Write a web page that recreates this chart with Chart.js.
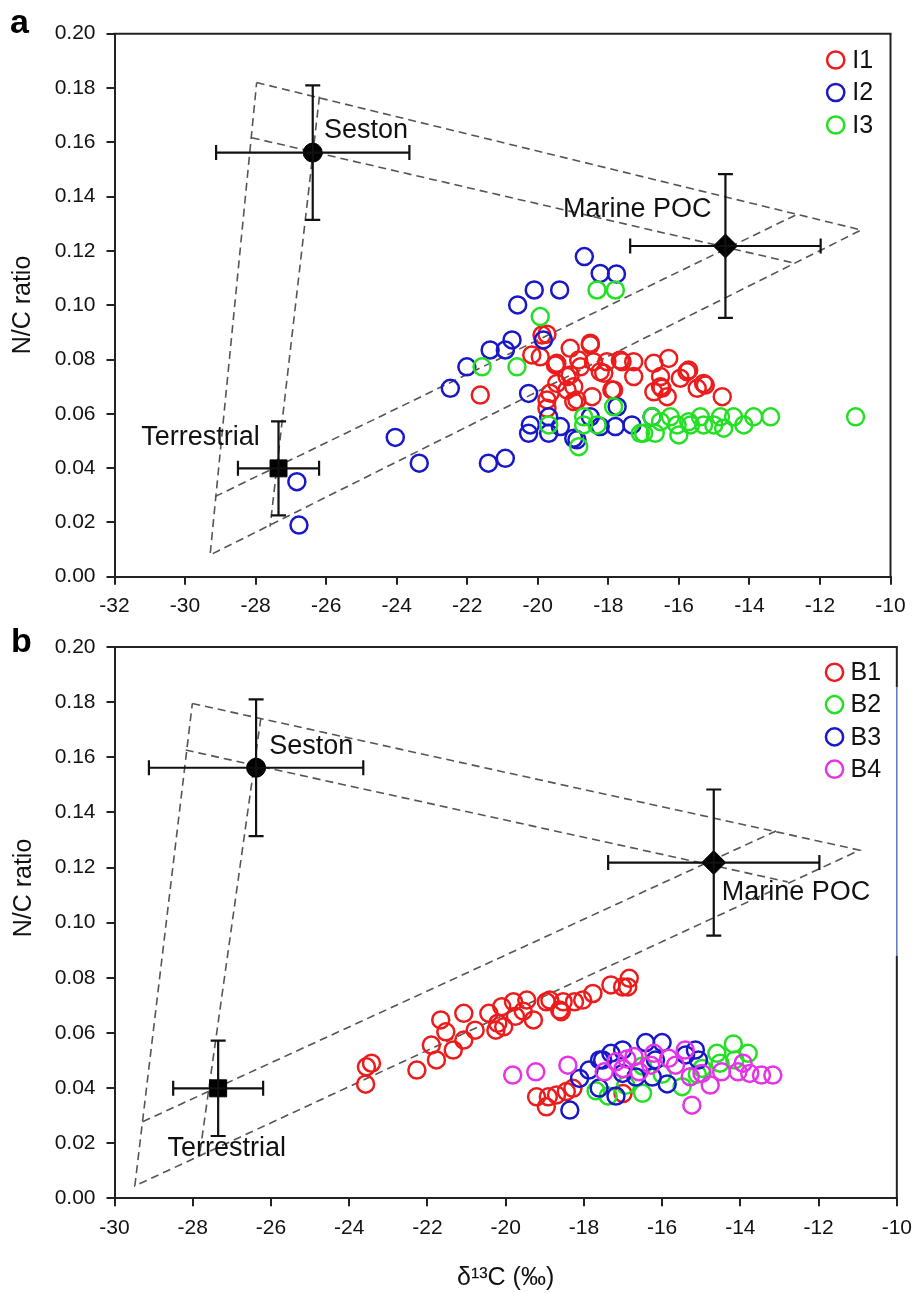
<!DOCTYPE html>
<html><head><meta charset="utf-8">
<script src="https://cdn.jsdelivr.net/npm/chart.js@4.4.1/dist/chart.umd.min.js"></script>
<style>
html,body{margin:0;padding:0;background:#fff;}
body{width:921px;height:1293px;position:relative;overflow:hidden;}
canvas{position:absolute;left:0;}
#ca{top:0;} #cb{top:620px;}
</style></head><body>
<canvas id="ca" width="921" height="620"></canvas>
<canvas id="cb" width="921" height="673"></canvas>
<script>
// ---------------- DATA ----------------
// Panel a series (δ13C, N/C)
const I1_x = [-21.63,-20.17,-19.88,-19.74,-19.50,-19.08,-18.51,-19.46,-19.08,-18.79,-18.42,-18.13,-19.17,-18.89,-18.46,-17.85,-17.61,-17.28,-16.71,-16.29,-16.52,-16.71,-16.33,-15.72,-15.96,-15.25,-14.77,-19.74,-18.84,-19.65,-18.04,-17.28,-16.52,-16.48,-15.77,-15.30,-15.48,-19.93,-19.17,-18.98,-17.66,-17.90,-18.98,-19.74,-18.51,-18.23,-19.46];
const I1_y = [0.0669,0.0817,0.0890,0.0893,0.0780,0.0841,0.0854,0.0712,0.0743,0.0773,0.0792,0.0749,0.0688,0.0651,0.0663,0.0688,0.0792,0.0737,0.0786,0.0804,0.0700,0.0681,0.0663,0.0761,0.0731,0.0706,0.0663,0.0620,0.0798,0.0676,0.0792,0.0792,0.0737,0.0694,0.0755,0.0712,0.0694,0.0810,0.0737,0.0700,0.0798,0.0688,0.0645,0.0651,0.0860,0.0755,0.0786];
const I2_x = [-18.68,-18.23,-17.77,-20.10,-19.38,-20.57,-20.73,-19.84,-21.35,-20.92,-22.01,-22.48,-20.26,-20.21,-20.26,-19.69,-19.69,-24.04,-23.36,-21.40,-20.92,-18.89,-18.23,-17.80,-17.33,-17.75,-16.76,-18.51,-19.36,-18.98,-26.83,-26.77];
const I2_y = [0.1179,0.1117,0.1115,0.1056,0.1056,0.1001,0.0872,0.0872,0.0835,0.0835,0.0773,0.0694,0.0675,0.0559,0.0528,0.0589,0.0528,0.0513,0.0418,0.0418,0.0436,0.0504,0.0553,0.0553,0.0559,0.0626,0.0589,0.0589,0.0553,0.0510,0.0350,0.0190];
const I3_x = [-19.93,-21.58,-20.59,-18.32,-17.80,-19.69,-18.70,-18.70,-18.32,-18.84,-17.85,-16.76,-16.67,-17.00,-16.05,-16.00,-15.67,-15.39,-15.01,-14.82,-14.45,-14.16,-13.88,-13.40,-10.99,-16.52,-16.24,-15.72,-15.30,-14.73,-17.09];
const I3_y = [0.0958,0.0773,0.0773,0.1056,0.1056,0.0559,0.0589,0.0559,0.0559,0.0479,0.0626,0.0589,0.0528,0.0528,0.0559,0.0522,0.0559,0.0589,0.0559,0.0589,0.0589,0.0559,0.0589,0.0589,0.0589,0.0571,0.0589,0.0571,0.0559,0.0547,0.0528];

// Panel b series
const B1_x = [-23.56,-23.43,-23.58,-22.27,-21.90,-21.77,-21.66,-21.53,-21.34,-21.07,-21.07,-20.78,-20.43,-20.25,-20.05,-20.10,-19.80,-19.46,-19.55,-19.29,-18.96,-18.62,-18.87,-18.53,-18.58,-18.24,-18.03,-17.77,-17.31,-17.01,-16.84,-16.88,-19.21,-18.96,-18.70,-18.45,-18.28,-18.91,-17.00,-20.20,-19.75];
const B1_y = [0.0477,0.0490,0.0414,0.0465,0.0556,0.0502,0.0647,0.0604,0.0538,0.0574,0.0671,0.0610,0.0671,0.0610,0.0622,0.0695,0.0713,0.0719,0.0679,0.0647,0.0713,0.0683,0.0719,0.0713,0.0677,0.0713,0.0719,0.0743,0.0774,0.0767,0.0798,0.0767,0.0368,0.0332,0.0375,0.0387,0.0399,0.0368,0.0380,0.0635,0.0660];
const B2_x = [-14.18,-14.60,-13.80,-14.52,-14.98,-17.38,-16.50,-15.49,-14.14,-15.10,-16.93,-17.69,-16.00,-16.50];
const B2_y = [0.0560,0.0526,0.0526,0.0490,0.0471,0.0371,0.0381,0.0405,0.0502,0.0450,0.0410,0.0390,0.0450,0.0480];
const B3_x = [-18.36,-18.11,-17.87,-17.60,-17.31,-17.01,-16.42,-16.00,-15.15,-15.07,-17.18,-17.61,-15.87,-16.25,-16.67,-17.01,-17.52,-15.40,-16.17];
const B3_y = [0.0320,0.0435,0.0465,0.0502,0.0526,0.0538,0.0565,0.0565,0.0538,0.0502,0.0371,0.0400,0.0415,0.0440,0.0440,0.0453,0.0502,0.0520,0.0502];
const B4_x = [-19.82,-19.23,-18.41,-17.48,-17.18,-16.72,-16.59,-16.21,-15.83,-15.66,-15.41,-15.28,-14.77,-15.24,-14.48,-14.06,-13.76,-13.46,-13.17,-13.93,-16.29,-14.98,-16.90,-17.00];
const B4_y = [0.0447,0.0459,0.0483,0.0459,0.0495,0.0514,0.0459,0.0526,0.0508,0.0483,0.0538,0.0441,0.0411,0.0338,0.0459,0.0459,0.0453,0.0447,0.0447,0.0490,0.0483,0.0453,0.0505,0.0470];

// End-members (mean ± SD)
const endNames = ['Seston', 'Marine POC', 'Terrestrial'];
const endX   = [-26.38, -14.68, -27.35];
const endY   = [0.1562, 0.1218, 0.0399];
const endSdX = [2.74, 2.70, 1.15];
const endSdY = [0.0248, 0.0265, 0.0173];

// Mixing polygon lines (dashed)
const aOuterX = [-27.97, -10.83, -29.29, -27.97];
const aOuterY = [0.1820, 0.1277, 0.0080, 0.1820];
const aLine1X = [-26.19, -27.59], aLine1Y = [0.1768, 0.0184];
const aLine2X = [-28.11, -12.69], aLine2Y = [0.1617, 0.1154];
const aLine3X = [-29.15, -12.69], aLine3Y = [0.0295, 0.1332];
const bOuterX = [-28.01, -10.95, -29.48, -28.01];
const bOuterY = [0.1795, 0.1263, 0.0045, 0.1795];
const bLine1X = [-26.26, -27.83], bLine1Y = [0.1741, 0.0152];
const bLine2X = [-28.18, -12.79], bLine2Y = [0.1626, 0.1148];
const bLine3X = [-29.28, -13.08], bLine3Y = [0.0278, 0.1333];

// Tick settings
const aXTicks = {min: -32, max: -10, step: 2};
const bXTicks = {min: -30, max: -10, step: 2};
const yTicks  = {min: 0, max: 0.20, step: 0.02};

// ---------------- RENDERING ----------------
const FONT = '"Liberation Sans", Arial, Helvetica, sans-serif';
const INK = '#111';
const AX = '#222';
const COL = {red: '#ec1c1c', blue: '#1818c8', green: '#24e024', magenta: '#e534e5'};

function pts(xs, ys) { return xs.map((x, i) => ({x: x, y: ys[i]})); }

function series(label, xs, ys, color, order) {
  return {type: 'scatter', label: label, inLegend: true, data: pts(xs, ys), order: order,
    pointStyle: 'circle', pointRadius: 8.5, pointBorderWidth: 2.5,
    borderColor: color, pointBorderColor: color, backgroundColor: 'rgba(0,0,0,0)',
    pointBackgroundColor: 'rgba(0,0,0,0)'};
}
function dashed(xs, ys) {
  return {type: 'scatter', showLine: true, data: pts(xs, ys), order: 10, pointRadius: 0,
    borderColor: '#555', borderWidth: 1.6, borderDash: [8, 5], fill: false, tension: 0};
}
function endMember(i, style, r) {
  return {type: 'scatter', data: [{x: endX[i], y: endY[i]}], order: 0, pointStyle: style,
    pointRadius: r, pointBorderWidth: 1, pointBorderColor: '#000', pointBackgroundColor: '#000'};
}

const decor = {
  id: 'decor',
  afterDatasetsDraw(chart, args, o) {
    const ctx = chart.ctx, sx = chart.scales.x, sy = chart.scales.y;
    ctx.save();
    ctx.strokeStyle = INK; ctx.lineWidth = 2.2;
    endX.forEach((mx, i) => {
      const my = endY[i];
      const px = sx.getPixelForValue(mx), py = sy.getPixelForValue(my);
      const x0 = sx.getPixelForValue(mx - endSdX[i]), x1 = sx.getPixelForValue(mx + endSdX[i]);
      const y0 = sy.getPixelForValue(my - endSdY[i]), y1 = sy.getPixelForValue(my + endSdY[i]);
      const c = 7.5;
      ctx.beginPath();
      ctx.moveTo(x0, py); ctx.lineTo(x1, py);
      ctx.moveTo(px, y0); ctx.lineTo(px, y1);
      ctx.moveTo(x0, py - c); ctx.lineTo(x0, py + c);
      ctx.moveTo(x1, py - c); ctx.lineTo(x1, py + c);
      ctx.moveTo(px - c, y0); ctx.lineTo(px + c, y0);
      ctx.moveTo(px - c, y1); ctx.lineTo(px + c, y1);
      ctx.stroke();
    });
    ctx.restore();
  },
  afterDraw(chart, args, o) {
    const ctx = chart.ctx, sx = chart.scales.x, sy = chart.scales.y;
    const ca = chart.chartArea;
    ctx.save();
    // frame: top + right
    ctx.lineWidth = 2; ctx.strokeStyle = AX; ctx.lineCap = 'butt';
    ctx.beginPath(); ctx.moveTo(ca.left - 1, ca.top); ctx.lineTo(ca.right + 1, ca.top); ctx.stroke();
    (o.rightSegs || [{from: yTicks.max, to: yTicks.min, color: AX, width: 2}]).forEach(s => {
      ctx.strokeStyle = s.color; ctx.lineWidth = s.width;
      ctx.beginPath();
      ctx.moveTo(ca.right, sy.getPixelForValue(s.from));
      ctx.lineTo(ca.right, sy.getPixelForValue(s.to));
      ctx.stroke();
    });
    // end-member labels
    ctx.fillStyle = INK; ctx.textBaseline = 'middle'; ctx.textAlign = 'center';
    ctx.font = '27px ' + FONT;
    o.labels.forEach((L, i) => {
      ctx.fillText(endNames[i], sx.getPixelForValue(L.x), sy.getPixelForValue(L.y));
    });
    // legend
    const items = chart.data.datasets.filter(d => d.inLegend);
    ctx.font = '25px ' + FONT; ctx.textAlign = 'left';
    items.forEach((d, i) => {
      const cx = ca.right - o.legend.dx, cy = ca.top + o.legend.dy + i * o.legend.gap;
      ctx.beginPath(); ctx.arc(cx, cy, 8.6, 0, Math.PI * 2);
      ctx.strokeStyle = d.borderColor; ctx.lineWidth = 2.5; ctx.stroke();
      ctx.fillStyle = INK; ctx.fillText(d.label, cx + o.legend.tx, cy + 1);
    });
    // y-axis title
    ctx.save();
    ctx.translate(o.ytitle.x, o.ytitle.y); ctx.rotate(-Math.PI / 2);
    ctx.textAlign = 'center'; ctx.textBaseline = 'middle';
    ctx.font = '25px ' + FONT; ctx.fillStyle = INK;
    ctx.fillText('N/C ratio', 0, 0);
    ctx.restore();
    // panel letter
    ctx.font = 'bold 34px ' + FONT; ctx.fillStyle = '#000';
    ctx.textAlign = 'left'; ctx.textBaseline = 'alphabetic';
    ctx.fillText(o.letter.t, o.letter.x, o.letter.y);
    ctx.restore();
  }
};

function axes(xt, xHeight, xTitle) {
  const tickFont = {family: FONT, size: 21};
  const grid = {drawOnChartArea: false, drawTicks: true, tickLength: 8, tickWidth: 2, tickColor: AX, color: AX, lineWidth: 2};
  return {
    x: {type: 'linear', min: xt.min, max: xt.max,
      ticks: {stepSize: xt.step, padding: 9, color: INK, font: tickFont, maxRotation: 0, autoSkip: false,
        callback: v => String(Math.round(v))},
      grid: grid, border: {display: true, color: AX, width: 2},
      title: xTitle ? {display: true, text: xTitle, color: INK, font: {family: FONT, size: 25}, padding: {top: 0, bottom: 0}} : {display: false},
      afterFit: s => { s.height = xHeight; }},
    y: {type: 'linear', min: yTicks.min, max: yTicks.max,
      ticks: {stepSize: yTicks.step, padding: 11, color: INK, font: tickFont, autoSkip: false,
        callback: v => v.toFixed(2)},
      grid: grid, border: {display: true, color: AX, width: 2},
      afterFit: s => { s.width = 114.5; }}
  };
}

const common = {responsive: false, animation: false, devicePixelRatio: 1, events: []};

new Chart(document.getElementById('ca'), {
  type: 'scatter',
  data: {datasets: [
    endMember(0, 'circle', 9.5), endMember(1, 'rectRot', 12), endMember(2, 'rect', 12),
    series('I1', I1_x, I1_y, COL.red, 3),
    series('I2', I2_x, I2_y, COL.blue, 2),
    series('I3', I3_x, I3_y, COL.green, 1),
    dashed(aOuterX, aOuterY), dashed(aLine1X, aLine1Y), dashed(aLine2X, aLine2Y), dashed(aLine3X, aLine3Y)
  ]},
  options: Object.assign({}, common, {
    layout: {padding: {left: 0, top: 33.7, right: 30.5, bottom: 0}},
    scales: axes(aXTicks, 43.3, null),
    plugins: {legend: {display: false}, tooltip: {enabled: false},
      decor: {
        labels: [{x: -24.87, y: 0.1642}, {x: -17.18, y: 0.1353}, {x: -29.56, y: 0.0513}],
        legend: {dx: 54.8, dy: 26.3, gap: 32.5, tx: 16.5},
        ytitle: {x: 23, y: 305},
        letter: {t: 'a', x: 10, y: 33}
      }}
  }),
  plugins: [decor]
});

new Chart(document.getElementById('cb'), {
  type: 'scatter',
  data: {datasets: [
    endMember(0, 'circle', 9.5), endMember(1, 'rectRot', 12), endMember(2, 'rect', 12),
    series('B1', B1_x, B1_y, COL.red, 4),
    series('B2', B2_x, B2_y, COL.green, 3),
    series('B3', B3_x, B3_y, COL.blue, 2),
    series('B4', B4_x, B4_y, COL.magenta, 1),
    dashed(bOuterX, bOuterY), dashed(bLine1X, bLine1Y), dashed(bLine2X, bLine2Y), dashed(bLine3X, bLine3Y)
  ]},
  options: Object.assign({}, common, {
    layout: {padding: {left: 0, top: 27, right: 17.7, bottom: 0}},
    scales: axes(bXTicks, 94.7, 'δ¹³C (‰)'),
    plugins: {legend: {display: false}, tooltip: {enabled: false},
      decor: {
        labels: [{x: -24.97, y: 0.1640}, {x: -12.58, y: 0.1108}, {x: -27.13, y: 0.0181}],
        legend: {dx: 62.3, dy: 25.3, gap: 32.3, tx: 16},
        ytitle: {x: 24, y: 268},
        letter: {t: 'b', x: 11, y: 32},
        rightSegs: [
          {from: 0.20, to: 0.1855, color: AX, width: 2},
          {from: 0.1855, to: 0.088, color: '#5578c0', width: 1.5},
          {from: 0.088, to: 0.0, color: AX, width: 2}
        ]
      }}
  }),
  plugins: [decor]
});
</script>
</body></html>
